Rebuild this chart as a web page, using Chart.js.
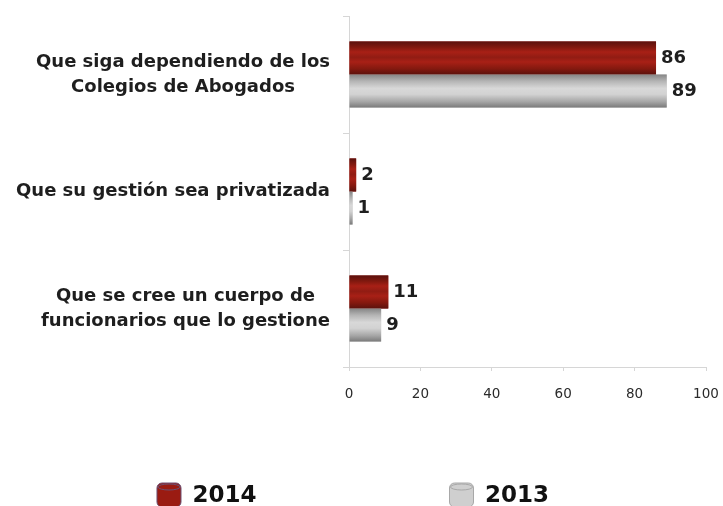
<!DOCTYPE html>
<html lang="es">
<head>
<meta charset="UTF-8">
<title>Colegios de Abogados</title>
<script src="https://cdn.jsdelivr.net/npm/chart.js"></script>
<style>
  html, body { margin: 0; padding: 0; background: #fff; overflow: hidden; }
  .wrap { width: 723px; height: 506px; position: relative; }
</style>
</head>
<body>
<div class="wrap">
  <canvas id="chart"></canvas>
</div>
<script>
// data
const categories = [
  ['Que siga dependiendo de los', 'Colegios de Abogados'],
  ['Que su gestión sea privatizada'],
  ['Que se cree un cuerpo de', 'funcionarios que lo gestione']
];
const values2014 = [86, 2, 11];
const values2013 = [89, 1, 9];
const xTicks = [0, 20, 40, 60, 80, 100];

const FONT = "'DejaVu Sans', Verdana, sans-serif";
const TEXT = '#1e1e1e';
const AXIS = '#d6d6d6';

// cylinder-like shading per series
const shades = [
  [[0, '#5a110d'], [0.18, '#82190f'], [0.32, '#a82016'], [0.48, '#911c13'], [0.62, '#a82016'], [0.82, '#85190f'], [1, '#5c120d']],
  [[0, '#858585'], [0.2, '#b4b4b4'], [0.42, '#d8d8d8'], [0.6, '#d2d2d2'], [0.82, '#a6a6a6'], [1, '#7a7a7a']]
];

const shadeBars = {
  id: 'shadeBars',
  afterDatasetsDraw(chart) {
    const ctx = chart.ctx;
    chart.data.datasets.forEach((ds, di) => {
      const meta = chart.getDatasetMeta(di);
      meta.data.forEach(el => {
        const p = el.getProps(['x', 'y', 'base', 'height'], true);
        const top = p.y - p.height / 2;
        const g = ctx.createLinearGradient(0, top, 0, top + p.height);
        shades[di].forEach(s => g.addColorStop(s[0], s[1]));
        ctx.save();
        ctx.fillStyle = g;
        ctx.fillRect(p.base, top, p.x - p.base, p.height);
        ctx.restore();
      });
    });
  }
};

const valueLabels = {
  id: 'valueLabels',
  afterDatasetsDraw(chart) {
    const ctx = chart.ctx;
    ctx.save();
    ctx.font = 'bold 18px ' + FONT;
    ctx.fillStyle = TEXT;
    ctx.textAlign = 'left';
    ctx.textBaseline = 'middle';
    chart.data.datasets.forEach((ds, di) => {
      chart.getDatasetMeta(di).data.forEach((el, i) => {
        ctx.fillText(ds.data[i], el.x + 5, el.y);
      });
    });
    ctx.restore();
  }
};

// category labels: each block centred on itself, blocks right-aligned to the axis
const catLabels = {
  id: 'catLabels',
  afterDraw(chart) {
    const ctx = chart.ctx;
    const sc = chart.scales.y;
    ctx.save();
    ctx.font = 'bold 18px ' + FONT;
    ctx.fillStyle = TEXT;
    ctx.textAlign = 'center';
    ctx.textBaseline = 'middle';
    categories.forEach((lines, i) => {
      const y = sc.getPixelForTick(i);
      const w = Math.max(...lines.map(l => ctx.measureText(l).width));
      const cx = sc.right - 19 - w / 2;
      lines.forEach((l, j) => {
        ctx.fillText(l, cx, y + (j - (lines.length - 1) / 2) * 25);
      });
    });
    ctx.restore();
  }
};

// legend drawn at the bottom, two items far apart
const bottomLegend = {
  id: 'bottomLegend',
  afterDraw(chart) {
    const ctx = chart.ctx;
    const box = 24, gap = 193, fs = 23;
    ctx.save();
    ctx.font = 'bold ' + fs + 'px ' + FONT;
    const items = chart.data.datasets.map(ds => ({
      text: ds.label, color: ds.backgroundColor, edge: ds.borderColor,
      w: box + fs / 2 + ctx.measureText(ds.label).width
    }));
    const total = items.reduce((a, it) => a + it.w, 0) + gap * (items.length - 1);
    let x = chart.chartArea.right / 2 - total / 2;
    const y = 496;
    items.forEach(it => {
      ctx.beginPath();
      ctx.roundRect(x, y - 13, box, box, 5);
      ctx.fillStyle = it.color;
      ctx.fill();
      ctx.lineWidth = 1;
      ctx.strokeStyle = it.edge;
      ctx.stroke();
      ctx.beginPath();
      ctx.ellipse(x + box / 2, y - 9, box / 2 - 1, 3, 0, 0, Math.PI * 2);
      ctx.strokeStyle = it.edge;
      ctx.stroke();
      ctx.fillStyle = '#111';
      ctx.textAlign = 'left';
      ctx.textBaseline = 'middle';
      ctx.fillText(it.text, x + box + fs / 2, y);
      x += it.w + gap;
    });
    ctx.restore();
  }
};

new Chart(document.getElementById('chart'), {
  type: 'bar',
  data: {
    labels: categories,
    datasets: [
      { label: '2014', data: values2014, backgroundColor: '#9a1b12', borderColor: '#6c4f72' },
      { label: '2013', data: values2013, backgroundColor: '#cfcfcf', borderColor: '#a8a8a8' }
    ]
  },
  options: {
    indexAxis: 'y',
    responsive: true,
    maintainAspectRatio: false,
    animation: false,
    layout: { padding: { top: 16, right: 17, bottom: 99, left: 0 } },
    categoryPercentage: 0.565,
    barPercentage: 1,
    scales: {
      x: {
        min: 0,
        max: 100,
        afterBuildTicks: sc => { sc.ticks = xTicks.map(v => ({ value: v })); },
        afterFit: sc => { sc.height = 40; sc.paddingLeft = 0; sc.paddingRight = 0; },
        grid: { drawOnChartArea: false, color: AXIS, tickLength: 4 },
        border: { color: AXIS },
        ticks: { color: '#2a2a2a', padding: 15, font: { family: FONT, size: 13.5 } }
      },
      y: {
        afterFit: sc => { sc.width = 349; sc.paddingTop = 0; sc.paddingBottom = 0; },
        grid: { drawOnChartArea: false, color: AXIS, tickLength: 6, offset: true },
        border: { color: AXIS },
        ticks: { color: 'transparent', font: { family: FONT, size: 15 } }
      }
    },
    plugins: {
      legend: { display: false },
      tooltip: { enabled: false }
    }
  },
  plugins: [shadeBars, valueLabels, catLabels, bottomLegend]
});
</script>
</body>
</html>
